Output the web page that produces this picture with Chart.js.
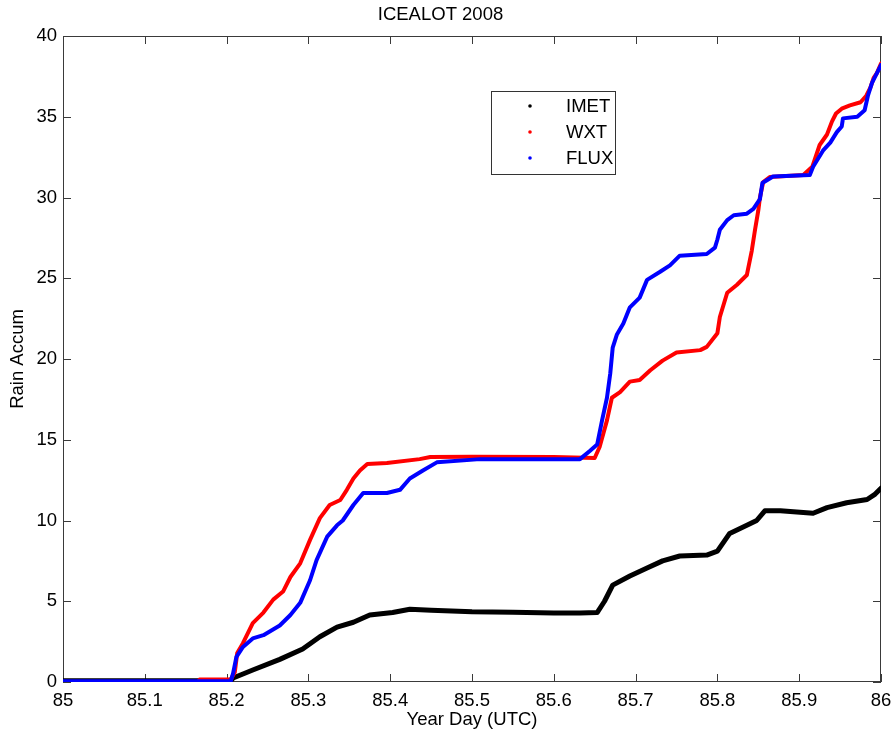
<!DOCTYPE html>
<html lang="en">
<head>
    <meta charset="UTF-8">
    <title>ICEALOT 2008 Rain Accumulation</title>
    <script src="https://cdn.jsdelivr.net/npm/chart.js@4.4.0/dist/chart.umd.min.js"></script>
    <style>
        html, body { margin: 0; padding: 0; background: #fff; }
        #wrap { width: 895px; height: 740px; }
    </style>
</head>
<body>
    <div id="wrap"><canvas id="rainChart" width="895" height="740"></canvas></div>

    <script>
        // Rain accumulation by sensor, year day 85 (UTC)
        const imetDay  = [85.000, 85.100, 85.205, 85.208, 85.232, 85.265, 85.293, 85.314, 85.335, 85.355,
                          85.375, 85.403, 85.424, 85.450, 85.500, 85.550, 85.600, 85.632, 85.653, 85.662,
                          85.672, 85.693, 85.714, 85.733, 85.754, 85.787, 85.800, 85.815, 85.836, 85.848,
                          85.858, 85.877, 85.917, 85.934, 85.958, 85.983, 85.992, 86.000];
        const imetRain = [0.08, 0.08, 0.08, 0.25, 0.74, 1.4, 2.04, 2.8, 3.4, 3.7,
                          4.15, 4.3, 4.5, 4.45, 4.35, 4.32, 4.28, 4.27, 4.3, 5.0,
                          6.0, 6.56, 7.06, 7.5, 7.8, 7.86, 8.1, 9.2, 9.7, 10.0,
                          10.6, 10.6, 10.45, 10.8, 11.1, 11.3, 11.6, 12.0];

        const wxtDay  = [85.000, 85.165, 85.167, 85.205, 85.210, 85.213, 85.220, 85.232, 85.245, 85.257,
                         85.269, 85.278, 85.290, 85.302, 85.314, 85.326, 85.339, 85.347, 85.355, 85.363,
                         85.372, 85.396, 85.436, 85.449, 85.500, 85.600, 85.650, 85.656, 85.665, 85.671,
                         85.681, 85.693, 85.705, 85.718, 85.733, 85.750, 85.779, 85.787, 85.800, 85.803,
                         85.812, 85.824, 85.836, 85.842, 85.846, 85.850, 85.852, 85.856, 85.864, 85.905,
                         85.916, 85.925, 85.934, 85.940, 85.945, 85.952, 85.962, 85.975, 85.982, 85.987,
                         85.991, 85.995, 86.000];
        const wxtRain = [0.0, 0.0, 0.15, 0.15, 0.6, 1.8, 2.4, 3.65, 4.3, 5.1,
                         5.6, 6.5, 7.35, 8.8, 10.15, 10.96, 11.27, 11.9, 12.6, 13.1,
                         13.5, 13.56, 13.8, 13.93, 13.95, 13.93, 13.87, 14.55, 16.2, 17.6,
                         17.95, 18.6, 18.7, 19.3, 19.9, 20.4, 20.55, 20.75, 21.6, 22.6,
                         24.1, 24.6, 25.2, 26.7, 28.0, 29.2, 30.0, 30.96, 31.27, 31.4,
                         31.9, 33.25, 33.9, 34.7, 35.2, 35.5, 35.7, 35.9, 36.3, 36.8,
                         37.4, 37.7, 38.3];

        const fluxDay  = [85.000, 85.205, 85.208, 85.212, 85.220, 85.232, 85.245, 85.265, 85.278, 85.290,
                          85.302, 85.310, 85.323, 85.335, 85.342, 85.355, 85.367, 85.396, 85.412, 85.424,
                          85.440, 85.457, 85.510, 85.632, 85.644, 85.653, 85.659, 85.665, 85.669, 85.672,
                          85.677, 85.685, 85.693, 85.705, 85.714, 85.730, 85.742, 85.754, 85.787, 85.797,
                          85.800, 85.803, 85.812, 85.820, 85.836, 85.844, 85.852, 85.855, 85.868, 85.913,
                          85.917, 85.923, 85.929, 85.938, 85.946, 85.952, 85.9535, 85.971, 85.980, 85.984,
                          85.989, 85.995, 86.000];
        const fluxRain = [0.04, 0.04, 0.55, 1.55, 2.17, 2.7, 2.9, 3.5, 4.15, 4.9,
                          6.3, 7.55, 9.0, 9.7, 10.0, 10.96, 11.7, 11.7, 11.9, 12.6,
                          13.1, 13.6, 13.8, 13.8, 14.3, 14.7, 16.2, 17.6, 19.1, 20.7,
                          21.5, 22.2, 23.2, 23.8, 24.9, 25.4, 25.8, 26.4, 26.5, 26.9,
                          27.4, 28.0, 28.6, 28.9, 29.0, 29.3, 29.9, 30.9, 31.3, 31.4,
                          31.9, 32.4, 32.9, 33.4, 34.05, 34.4, 34.9, 35.0, 35.4, 36.3,
                          37.1, 37.7, 38.2];

        const xTicks = [85, 85.1, 85.2, 85.3, 85.4, 85.5, 85.6, 85.7, 85.8, 85.9, 86];
        const yTicks = [0, 5, 10, 15, 20, 25, 30, 35, 40];

        const FONT = '"Liberation Sans", Arial, Helvetica, sans-serif';
        const FONT_SIZE = 18.5;
        const pairs = (xs, ys) => xs.map((x, i) => ({ x: x, y: ys[i] }));

        // axes box with inward tick marks on all four sides
        const boxPlugin = {
            id: 'box',
            beforeDatasetsDraw(chart) {
                const { ctx, chartArea: a, scales } = chart;
                const len = 8;
                ctx.save();
                ctx.strokeStyle = '#3a3a3a';
                ctx.lineWidth = 1;
                ctx.strokeRect(a.left + 0.5, a.top + 0.5, a.right - a.left - 1, a.bottom - a.top - 1);
                ctx.beginPath();
                scales.x.ticks.forEach(t => {
                    const px = Math.round(scales.x.getPixelForValue(t.value)) + 0.5;
                    ctx.moveTo(px, a.bottom); ctx.lineTo(px, a.bottom - len);
                    ctx.moveTo(px, a.top); ctx.lineTo(px, a.top + len);
                });
                scales.y.ticks.forEach(t => {
                    const py = Math.round(scales.y.getPixelForValue(t.value)) + 0.5;
                    ctx.moveTo(a.left, py); ctx.lineTo(a.left + len, py);
                    ctx.moveTo(a.right, py); ctx.lineTo(a.right - len, py);
                });
                ctx.stroke();
                ctx.restore();
            }
        };

        // boxed legend inside the plot, marker dot then label
        const legendPlugin = {
            id: 'boxLegend',
            afterDraw(chart) {
                const ctx = chart.ctx;
                const sets = chart.data.datasets;
                ctx.save();
                ctx.fillStyle = '#fff';
                ctx.fillRect(491, 91, 124, 83);
                ctx.strokeStyle = '#333';
                ctx.lineWidth = 1;
                ctx.strokeRect(491.5, 91.5, 124, 83);
                ctx.font = FONT_SIZE + 'px ' + FONT;
                ctx.textBaseline = 'middle';
                const rows = [106, 132, 158];
                sets.forEach((ds, i) => {
                    ctx.fillStyle = ds.borderColor;
                    ctx.beginPath();
                    ctx.arc(530, rows[i], 1.8, 0, Math.PI * 2);
                    ctx.fill();
                    ctx.fillStyle = '#000';
                    ctx.fillText(ds.label, 566, rows[i] + 1);
                });
                ctx.restore();
            }
        };

        const tickFont = { family: FONT, size: FONT_SIZE };

        new Chart(document.getElementById('rainChart'), {
            type: 'scatter',
            data: {
                datasets: [
                    { label: 'IMET', data: pairs(imetDay, imetRain), borderColor: '#000000', borderWidth: 5, order: 3 },
                    { label: 'WXT', data: pairs(wxtDay, wxtRain), borderColor: '#ff0000', borderWidth: 4, order: 2 },
                    { label: 'FLUX', data: pairs(fluxDay, fluxRain), borderColor: '#0000ff', borderWidth: 4, order: 1 }
                ].map(ds => Object.assign(ds, {
                    showLine: true, pointRadius: 0, tension: 0, fill: false,
                    borderJoinStyle: 'round', borderCapStyle: 'round'
                }))
            },
            options: {
                responsive: false,
                animation: false,
                layout: { padding: { top: 0, right: 14, left: 0, bottom: 0 } },
                plugins: {
                    legend: { display: false },
                    tooltip: { enabled: false },
                    title: {
                        display: true,
                        text: 'ICEALOT 2008',
                        color: '#000',
                        font: { family: FONT, size: FONT_SIZE, weight: 'normal' },
                        padding: { top: 4, bottom: 9.8 }
                    }
                },
                scales: {
                    x: {
                        type: 'linear',
                        min: 85,
                        max: 86,
                        grid: { display: false, drawTicks: false },
                        border: { display: false },
                        afterBuildTicks: s => { s.ticks = xTicks.map(v => ({ value: v })); },
                        afterFit: s => { s.height = 58; s.paddingLeft = 0; s.paddingRight = 0; },
                        ticks: {
                            color: '#000',
                            font: tickFont,
                            padding: 8,
                            maxRotation: 0,
                            callback: v => String(+Number(v).toFixed(1))
                        },
                        title: {
                            display: true,
                            text: 'Year Day (UTC)',
                            color: '#000',
                            font: tickFont,
                            padding: { top: 0, bottom: 9 }
                        }
                    },
                    y: {
                        min: 0,
                        max: 40,
                        grid: { display: false, drawTicks: false },
                        border: { display: false },
                        afterBuildTicks: s => { s.ticks = yTicks.map(v => ({ value: v })); },
                        afterFit: s => { s.width = 63; s.paddingTop = 0; s.paddingBottom = 0; },
                        ticks: { color: '#000', font: tickFont, padding: 6 },
                        title: {
                            display: true,
                            text: 'Rain Accum',
                            color: '#000',
                            font: tickFont,
                            padding: { top: 7, bottom: 0 }
                        }
                    }
                }
            },
            plugins: [boxPlugin, legendPlugin]
        });
    </script>
</body>
</html>
